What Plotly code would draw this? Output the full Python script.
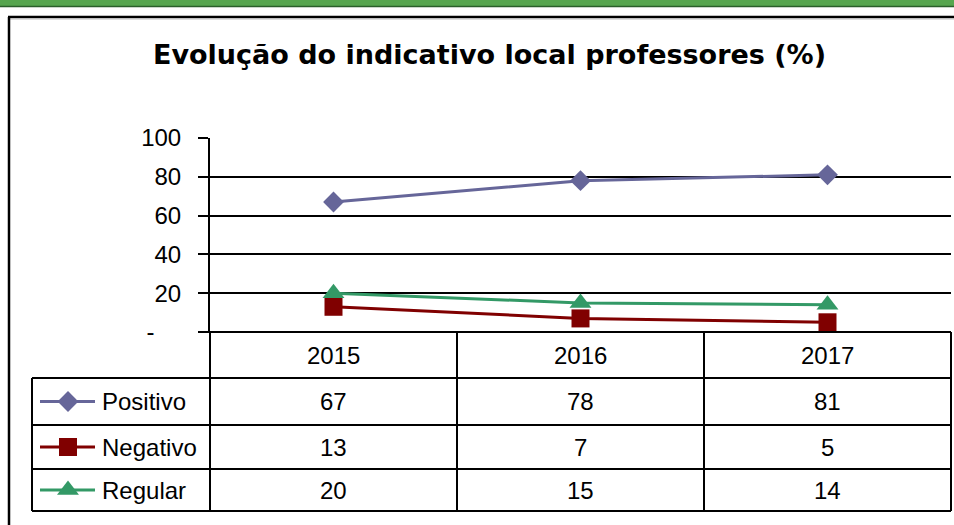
import plotly.graph_objects as go

# ---- data ----
years = ["2015", "2016", "2017"]
series_names = ["Positivo", "Negativo", "Regular"]
positivo = [67, 78, 81]
negativo = [13, 7, 5]
regular = [20, 15, 14]
y_tick_vals = [0, 20, 40, 60, 80, 100]
y_tick_text = ["-\u00a0\u00a0\u00a0\u00a0", "20", "40", "60", "80", "100"]
title_text = "Evolução do indicativo local professores (%)"

# ---- styling ----
W, H = 954, 525
FONT = "Liberation Sans, Arial, sans-serif"
TITLE_FONT = "DejaVu Sans, Liberation Sans, sans-serif"
colors = ["#666699", "#800000", "#339966"]
symbols = ["diamond", "square", "triangle-up"]
msizes = [16, 18, 19]
values = [positivo, negativo, regular]

# plot-area geometry in pixels
PX0, PX1 = 210, 951
PY_TOP, PY_BOT = 138, 332
# data table geometry in pixels
ROW_Y = [332, 378, 425, 469, 511]
COL_X = [32, 210, 457, 704, 951]


def px(x):
    return x / W


def py(y):
    return 1 - y / H


fig = go.Figure()

for name, vals, c, sym, ms in zip(series_names, values, colors, symbols, msizes):
    fig.add_trace(go.Scatter(
        x=years, y=vals, mode="lines+markers", name=name,
        line=dict(color=c, width=3),
        marker=dict(symbol=sym, size=ms, color=c),
        xaxis="x", yaxis="y", showlegend=False, cliponaxis=False,
    ))

# legend keys inside the data table (full-page pixel axes)
for i, (c, sym, ms) in enumerate(zip(colors, symbols, msizes)):
    yc = (ROW_Y[i + 1] + ROW_Y[i + 2]) / 2
    fig.add_trace(go.Scatter(
        x=[40, 68, 95], y=[yc, yc, yc], mode="lines",
        line=dict(color=c, width=3), xaxis="x2", yaxis="y2",
        showlegend=False, hoverinfo="skip", cliponaxis=False,
    ))
    fig.add_trace(go.Scatter(
        x=[68], y=[yc], mode="markers",
        marker=dict(symbol=sym, size=ms, color=c), xaxis="x2", yaxis="y2",
        showlegend=False, hoverinfo="skip", cliponaxis=False,
    ))

shapes = []
line_k = dict(color="black", width=2)

# green header band
shapes.append(dict(type="rect", xref="paper", yref="paper",
                   x0=0, x1=1, y0=py(6), y1=1,
                   fillcolor="#57a64f", line=dict(width=0), layer="below"))
shapes.append(dict(type="line", xref="paper", yref="paper",
                   x0=0, x1=1, y0=py(6.5), y1=py(6.5),
                   line=dict(color="#2b5f2b", width=1.5)))
# outer chart frame
shapes.append(dict(type="line", xref="paper", yref="paper",
                   x0=px(8), x1=1, y0=py(17), y1=py(17),
                   line=dict(color="black", width=2.5)))
shapes.append(dict(type="line", xref="paper", yref="paper",
                   x0=px(10), x1=1, y0=py(19), y1=py(19),
                   line=dict(color="#bbbbbb", width=1)))
shapes.append(dict(type="line", xref="paper", yref="paper",
                   x0=px(9), x1=px(9), y0=py(17), y1=0,
                   line=dict(color="black", width=2.5)))

# data table lines
shapes.append(dict(type="line", xref="paper", yref="paper",
                   x0=px(200), x1=px(COL_X[-1]), y0=py(ROW_Y[0]), y1=py(ROW_Y[0]),
                   line=line_k))
for yv in ROW_Y[1:]:
    shapes.append(dict(type="line", xref="paper", yref="paper",
                       x0=px(COL_X[0]), x1=px(COL_X[-1]), y0=py(yv), y1=py(yv),
                       line=line_k))
shapes.append(dict(type="line", xref="paper", yref="paper",
                   x0=px(COL_X[0]), x1=px(COL_X[0]), y0=py(ROW_Y[1]), y1=py(ROW_Y[-1]),
                   line=line_k))
for xv in COL_X[1:]:
    shapes.append(dict(type="line", xref="paper", yref="paper",
                       x0=px(xv), x1=px(xv), y0=py(ROW_Y[0]), y1=py(ROW_Y[-1]),
                       line=line_k))

annotations = []
tfont = dict(family=FONT, size=24, color="black")
for j, yr in enumerate(years):
    xc = (COL_X[j + 1] + COL_X[j + 2]) / 2
    yc = (ROW_Y[0] + ROW_Y[1]) / 2
    annotations.append(dict(x=px(xc), y=py(yc), xref="paper", yref="paper",
                            text=yr, showarrow=False, font=tfont,
                            xanchor="center", yanchor="middle"))
for i, (name, vals) in enumerate(zip(series_names, values)):
    yc = (ROW_Y[i + 1] + ROW_Y[i + 2]) / 2
    annotations.append(dict(x=px(100), y=py(yc), xref="paper", yref="paper",
                            text=name, showarrow=False, font=tfont,
                            xanchor="left", yanchor="middle"))
    for j, v in enumerate(vals):
        xc = (COL_X[j + 1] + COL_X[j + 2]) / 2
        annotations.append(dict(x=px(xc), y=py(yc), xref="paper", yref="paper",
                                text=str(v), showarrow=False, font=tfont,
                                xanchor="center", yanchor="middle"))

annotations.append(dict(x=px(489), y=py(55), xref="paper", yref="paper",
                        text="<b>" + title_text + "</b>", showarrow=False,
                        font=dict(family=TITLE_FONT, size=27, color="black"),
                        xanchor="center", yanchor="middle"))

fig.update_layout(
    template="none",
    width=W, height=H,
    margin=dict(l=0, r=0, t=0, b=0, pad=0, autoexpand=False),
    paper_bgcolor="white", plot_bgcolor="rgba(0,0,0,0)",
    font=dict(family=FONT, size=24, color="black"),
    xaxis=dict(
        domain=[px(PX0), px(PX1)], type="category", range=[-0.5, 2.5],
        showgrid=False, zeroline=False, showline=False,
        showticklabels=False, ticks="", fixedrange=True, automargin=False,
    ),
    yaxis=dict(
        domain=[py(PY_BOT), py(PY_TOP)], range=[0, 100],
        tickvals=y_tick_vals, ticktext=y_tick_text,
        showgrid=True, gridcolor="black", gridwidth=1.5,
        zeroline=False, showline=True, linecolor="black", linewidth=2,
        ticks="outside", ticklen=10, tickcolor="black", tickwidth=1.5,
        ticklabelstandoff=12, automargin=False,
        tickfont=dict(family=FONT, size=24, color="black"),
        fixedrange=True,
    ),
    xaxis2=dict(domain=[0, 1], range=[0, W], visible=False, fixedrange=True,
                anchor="y2", automargin=False),
    yaxis2=dict(domain=[0, 1], range=[H, 0], visible=False, fixedrange=True,
                anchor="x2", automargin=False),
    shapes=shapes,
    annotations=annotations,
    showlegend=False,
)

fig.write_html("out.html")
